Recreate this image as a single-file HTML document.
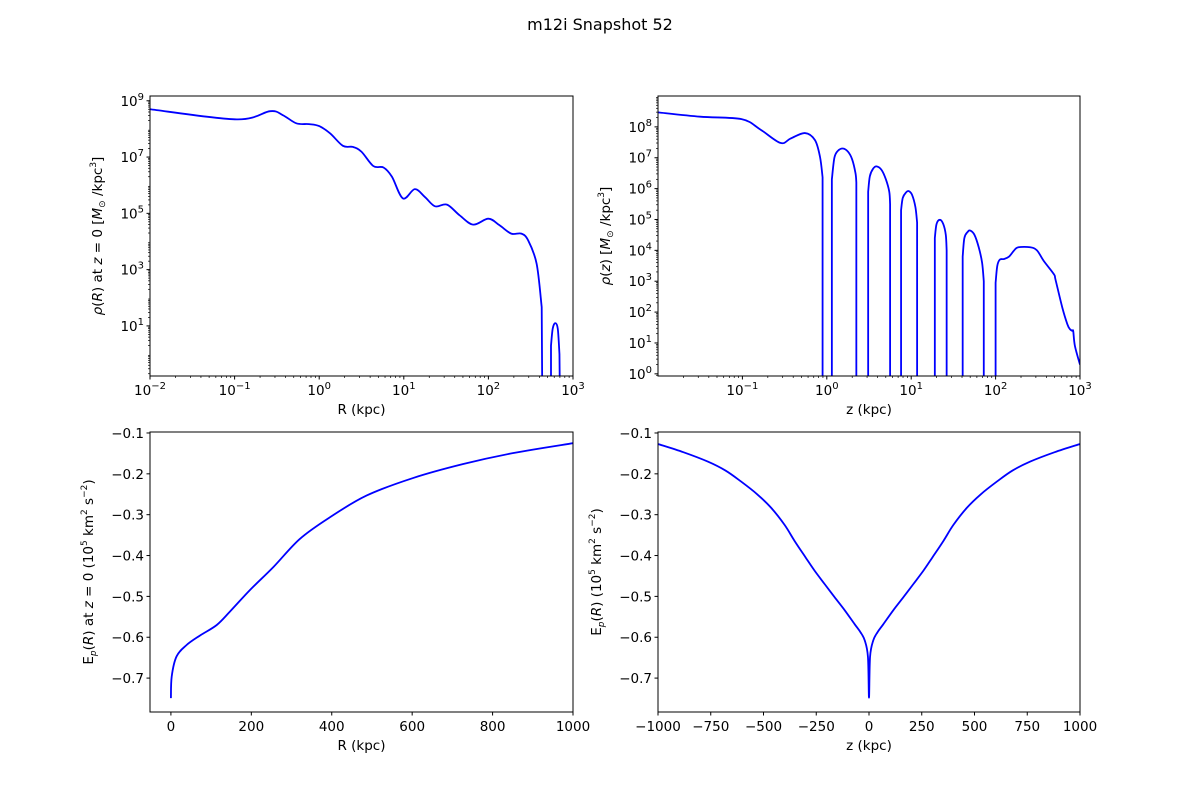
<!DOCTYPE html>
<html><head><meta charset="utf-8"><style>
html,body{margin:0;padding:0;background:#fff;}
svg{display:block;font-family:"DejaVu Sans","Liberation Sans",sans-serif;}
</style></head><body>
<svg id="fig" width="1200" height="800" viewBox="0 0 1200 800">
<text x="600" y="30" font-size="16" text-anchor="middle">m12i Snapshot 52</text>
<text transform="translate(102,236) rotate(-90)" font-size="13.5" text-anchor="middle"><tspan font-style="italic">ρ</tspan>(<tspan font-style="italic">R</tspan>) at <tspan font-style="italic">z</tspan> = 0 [<tspan font-style="italic">M</tspan><tspan font-size="9" dy="3">⊙</tspan><tspan dy="-3"> /kpc</tspan><tspan font-size="9" dy="-6">3</tspan><tspan dy="6">]</tspan></text>
<text transform="translate(610,236) rotate(-90)" font-size="13.5" text-anchor="middle"><tspan font-style="italic">ρ</tspan>(<tspan font-style="italic">z</tspan>) [<tspan font-style="italic">M</tspan><tspan font-size="9" dy="3">⊙</tspan><tspan dy="-3"> /kpc</tspan><tspan font-size="9" dy="-6">3</tspan><tspan dy="6">]</tspan></text>
<text transform="translate(93,572) rotate(-90)" font-size="13.5" text-anchor="middle">E<tspan font-size="9" dy="3" font-style="italic">p</tspan><tspan dy="-3">(</tspan><tspan font-style="italic">R</tspan>) at <tspan font-style="italic">z</tspan> = 0 (10<tspan font-size="9" dy="-6">5</tspan><tspan dy="6"> km</tspan><tspan font-size="9" dy="-6">2</tspan><tspan dy="6"> s</tspan><tspan font-size="9" dy="-6">−2</tspan><tspan dy="6">)</tspan></text>
<text transform="translate(601,572) rotate(-90)" font-size="13.5" text-anchor="middle">E<tspan font-size="9" dy="3" font-style="italic">p</tspan><tspan dy="-3">(</tspan><tspan font-style="italic">R</tspan>) (10<tspan font-size="9" dy="-6">5</tspan><tspan dy="6"> km</tspan><tspan font-size="9" dy="-6">2</tspan><tspan dy="6"> s</tspan><tspan font-size="9" dy="-6">−2</tspan><tspan dy="6">)</tspan></text>
</svg>
<script>
// ---- data: top-left rho(R) at z=0 (log10 values) ----
const logR = [-2.0,-0.975,-0.58,-0.43,-0.27,-0.12,0.0,0.13,0.28,0.40,0.50,0.64,0.76,0.86,0.99,1.13,1.25,1.37,1.51,1.66,1.82,2.0,2.13,2.27,2.39,2.47,2.57,2.63,2.64,2.74,2.74,2.76,2.79,2.82,2.84,2.85];
const logRhoR = [8.70,8.34,8.63,8.49,8.20,8.17,8.10,7.84,7.40,7.36,7.19,6.68,6.63,6.30,5.53,5.86,5.58,5.25,5.31,4.93,4.60,4.81,4.58,4.28,4.28,4.04,3.21,1.67,-3,-3,0.3,0.9,1.1,0.9,0.0,-3];
// ---- data: top-right rho(z) (log10 values) ----
const logZ = [-2.0,-1.5,-1.01,-0.79,-0.55,-0.43,-0.26,-0.14,-0.08,-0.05,-0.05,
  0.06,0.06,0.09,0.13,0.19,0.25,0.30,0.34,0.35,0.35,
  0.49,0.49,0.51,0.55,0.59,0.65,0.70,0.74,0.75,0.75,
  0.88,0.88,0.90,0.94,0.97,1.01,1.05,1.07,1.07,
  1.28,1.28,1.30,1.34,1.38,1.41,1.42,1.42,
  1.61,1.61,1.63,1.67,1.70,1.75,1.80,1.84,1.86,1.86,
  2.0,2.0,2.02,2.05,2.10,2.16,2.22,2.27,2.41,2.49,2.57,2.69,2.71,2.79,2.85,2.88,2.91,2.92,2.94,3.0];
const logRhoZ = [8.47,8.33,8.25,7.92,7.48,7.62,7.80,7.57,7.02,6.37,-3,
  -3,6.3,7.0,7.22,7.30,7.2,6.95,6.5,6.2,-3,
  -3,5.9,6.4,6.65,6.72,6.6,6.3,5.9,5.5,-3,
  -3,5.3,5.7,5.88,5.92,5.8,5.4,4.9,-3,
  -3,4.4,4.85,4.99,4.85,4.5,4.0,-3,
  -3,3.8,4.4,4.6,4.64,4.5,4.1,3.6,3.0,-3,
  -3,2.95,3.5,3.7,3.72,3.80,4.0,4.10,4.10,4.0,3.66,3.23,3.05,2.15,1.61,1.45,1.39,1.38,0.90,0.30];
// ---- data: bottom-left Ep(R) ----
const rVals = [0,2,14,39,72,114,147,197,255,321,396,487,603,727,852,1000];
const epR = [-0.749,-0.696,-0.647,-0.619,-0.596,-0.570,-0.537,-0.484,-0.428,-0.359,-0.306,-0.253,-0.210,-0.176,-0.149,-0.125];
// ---- data: bottom-right Ep(z) ----
const zVals = [-1000,-880,-764,-680,-606,-530,-464,-400,-353,-300,-258,-210,-163,-115,-68,-40,-20,-5,0,5,20,40,68,115,163,210,258,300,353,400,464,530,606,680,764,880,1000];
const epZ = [-0.127,-0.147,-0.170,-0.192,-0.219,-0.250,-0.283,-0.325,-0.364,-0.405,-0.437,-0.470,-0.502,-0.534,-0.568,-0.588,-0.608,-0.648,-0.748,-0.648,-0.608,-0.588,-0.568,-0.534,-0.502,-0.470,-0.437,-0.405,-0.364,-0.325,-0.283,-0.250,-0.219,-0.192,-0.170,-0.147,-0.127];
// ---- ticks ----
const tlXTicks = [-2,-1,0,1,2,3];
const tlYTicks = [1,3,5,7,9];
const trXTicks = [-1,0,1,2,3];
const trYTicks = [0,1,2,3,4,5,6,7,8];
const blXTicks = [0,200,400,600,800,1000];
const blYTicks = [-0.7,-0.6,-0.5,-0.4,-0.3,-0.2,-0.1];
const brXTicks = [-1000,-750,-500,-250,0,250,500,750,1000];
const brYTicks = blYTicks;

const NS="http://www.w3.org/2000/svg";
const fig=document.getElementById('fig');
function mk(tag,attrs,parent){const e=document.createElementNS(NS,tag);for(const k in attrs)e.setAttribute(k,attrs[k]);(parent||fig).appendChild(e);return e;}
function sup(el,base,exp){const t1=document.createElementNS(NS,'tspan');t1.textContent=base;el.appendChild(t1);
  const t2=document.createElementNS(NS,'tspan');t2.setAttribute('dy','-6');t2.setAttribute('font-size','10');t2.textContent=exp;el.appendChild(t2);}
function fmt(v){const s=(Math.round(v*10)/10).toString();return s.replace('-','\u2212');}

function smoothPath(P){
  let d='M'+P[0][0].toFixed(2)+' '+P[0][1].toFixed(2);
  for(let i=0;i<P.length-1;i++){
    const a=P[i],b=P[i+1];
    if(a[2]||b[2]||Math.abs(b[0]-a[0])<0.5){d+='L'+b[0].toFixed(2)+' '+b[1].toFixed(2);continue;}
    let p0=P[i-1],p3=P[i+2];
    if(!p0||p0[2]||Math.abs(a[0]-p0[0])<0.5)p0=a;
    if(!p3||p3[2]||Math.abs(p3[0]-b[0])<0.5)p3=b;
    const c1x=a[0]+(b[0]-p0[0])/6,c1y=a[1]+(b[1]-p0[1])/6;
    const c2x=b[0]-(p3[0]-a[0])/6,c2y=b[1]-(p3[1]-a[1])/6;
    d+='C'+c1x.toFixed(2)+' '+c1y.toFixed(2)+' '+c2x.toFixed(2)+' '+c2y.toFixed(2)+' '+b[0].toFixed(2)+' '+b[1].toFixed(2);
  }
  return d;
}

function panel(id,box,xd,yd,xLog,yLog,xs,ys,xt,yt,xlabel,yMinor,xMinor){
  const [L,T,R,B]=box;
  const g=mk('g',{});
  
  
  const sx=v=>L+(v-xd[0])/(xd[1]-xd[0])*(R-L);
  const sy=v=>B-(v-yd[0])/(yd[1]-yd[0])*(B-T);
  const cp=mk('clipPath',{id:'c'+id},g);mk('rect',{x:L,y:T,width:R-L,height:B-T},cp);
  const P=xs.map((x,i)=>[sx(x),sy(ys[i]),ys[i]<yd[0]]);
  const p=mk('path',{d:smoothPath(P),fill:'none',stroke:'#0000ff','stroke-width':1.8,'stroke-linejoin':'round','clip-path':'url(#c'+id+')'},g);
  
  
  const fr=mk('rect',{x:L,y:T,width:R-L,height:B-T,fill:'none',stroke:'#000','stroke-width':1},g);
  
  
  xt.forEach(v=>{const x=sx(v);mk('line',{x1:x,x2:x,y1:B,y2:B+3.5,stroke:'#000'},g);
    const t=mk('text',{x:x,y:B+19,'font-size':13.5,'text-anchor':'middle'},g);
    
    
    if(xLog)sup(t,'10',fmt(v));else t.textContent=fmt(v);});
  if(xMinor){for(let n=Math.floor(xd[0]);n<xd[1];n++)for(let k=2;k<10;k++){const v=n+Math.log10(k);if(v>xd[0]&&v<xd[1]){const x=sx(v);mk('line',{x1:x,x2:x,y1:B,y2:B+2,stroke:'#000','stroke-width':0.7},g);}}}
  yt.forEach(v=>{const y=sy(v);mk('line',{x1:L-3.5,x2:L,y1:y,y2:y,stroke:'#000'},g);
    const t=mk('text',{x:L-6,y:y+5,'font-size':13.5,'text-anchor':'end'},g);
    
    
    if(yLog)sup(t,'10',fmt(v));else t.textContent=fmt(v);});
  if(yMinor){for(let n=Math.floor(yd[0]);n<yd[1];n++)for(let k=2;k<10;k++){const v=n+Math.log10(k);if(v>yd[0]&&v<yd[1]){const y=sy(v);mk('line',{x1:L-2,x2:L,y1:y,y2:y,stroke:'#000','stroke-width':0.7},g);}}}
  const xl=mk('text',{x:(L+R)/2,y:B+38,'font-size':13.5,'text-anchor':'middle'},g);
  
  
  xl.textContent=xlabel;
  return g;
}
panel('density-r-panel',[150,96,573,376],[-2,3],[-0.78,9.17],true,true,logR,logRhoR,tlXTicks,tlYTicks,'R (kpc)',true,true);
panel('density-z-panel',[658,96,1080,376],[-2.0,3],[-0.07,9.0],true,true,logZ,logRhoZ,trXTicks,trYTicks,'z (kpc)',true,true);
panel('potential-r-panel',[150,432,573,712],[-52,1000],[-0.783,-0.0976],false,false,rVals,epR,blXTicks,blYTicks,'R (kpc)',false,false);
panel('potential-z-panel',[658,432,1080,712],[-1000,1000],[-0.783,-0.0976],false,false,zVals,epZ,brXTicks,brYTicks,'z (kpc)',false,false);
</script>
</body></html>
